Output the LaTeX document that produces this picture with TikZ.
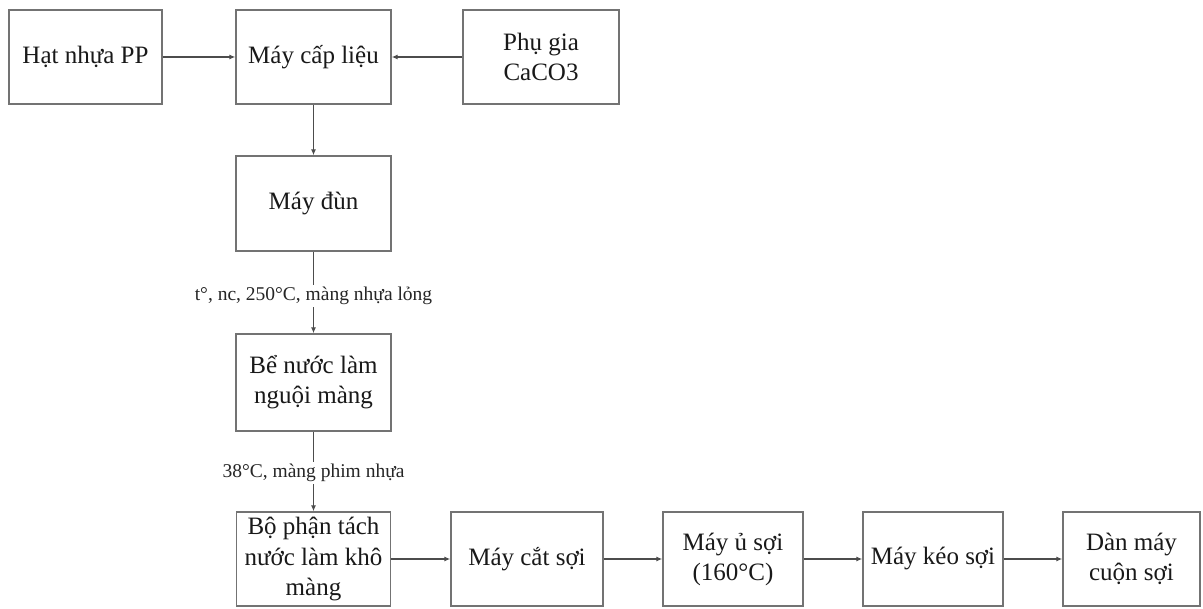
\documentclass[tikz,border=0pt]{standalone}
\usepackage{fontspec}
\setmainfont{Liberation Serif}
\usetikzlibrary{arrows.meta}
\begin{document}
\begin{tikzpicture}[x=1pt,y=-1pt,
  box/.style={draw=black!55, line width=1.3pt, fill=white, align=center, inner sep=2pt,
    font=\fontsize{25}{30}\selectfont, text=black!90, minimum height=94pt},
  arr/.style={draw=black!70, line width=1.2pt, -{Latex[length=6pt,width=5pt]}},
  lbl/.style={fill=white, inner sep=2pt, font=\fontsize{19.5}{23}\selectfont, text=black!85}]
\useasboundingbox (0,0) rectangle (1203,609);
% top row
\node[box, minimum width=153pt] (hat) at (85.5,57) {Hạt nhựa PP};
\node[box, minimum width=155pt] (cap) at (313.5,57) {Máy cấp liệu};
\node[box, minimum width=156pt] (phu) at (541,57) {Phụ gia\\CaCO3};
% column
\node[box, minimum width=155pt, minimum height=95pt] (dun) at (313.5,203.5) {Máy đùn};
\node[box, minimum width=155pt, minimum height=97pt] (be) at (313.5,382.5) {Bể nước làm\\nguội màng};
% bottom row
\node[box, minimum width=154pt, inner sep=0pt, font=\fontsize{25}{30.5}\selectfont] (bo) at (313.5,559) {Bộ phận tách\\nước làm khô\\màng};
\node[box, minimum width=152pt] (cat) at (527,559) {Máy cắt sợi};
\node[box, minimum width=140pt] (u) at (733,559) {Máy ủ sợi\\(160°C)};
\node[box, minimum width=140pt] (keo) at (933,559) {Máy kéo sợi};
\node[box, minimum width=137pt] (dan) at (1131.5,559) {Dàn máy\\cuộn sợi};
% connectors
\draw[arr] (hat) -- (cap);
\draw[arr] (phu) -- (cap);
\draw[arr] (cap) -- (dun);
\draw[arr] (dun) -- node[lbl, pos=0.54] {t°, nc, 250°C, màng nhựa lỏng} (be);
\draw[arr] (be) -- node[lbl, pos=0.52] {38°C, màng phim nhựa} (bo);
\draw[arr] (bo) -- (cat);
\draw[arr] (cat) -- (u);
\draw[arr] (u) -- (keo);
\draw[arr] (keo) -- (dan);
\end{tikzpicture}
\end{document}
